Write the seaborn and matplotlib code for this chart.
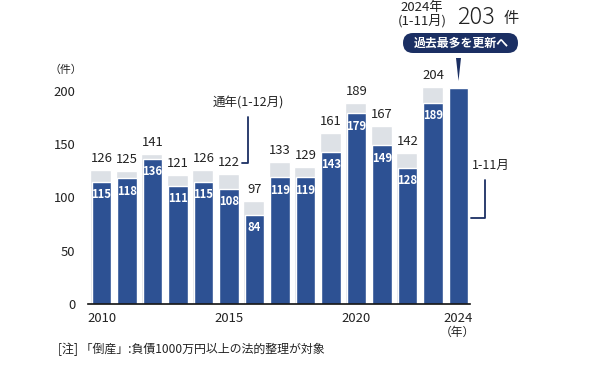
import numpy as np
import pandas as pd
import matplotlib
matplotlib.use("Agg")
import matplotlib.pyplot as plt
import seaborn as sns
from matplotlib.lines import Line2D
from matplotlib.patches import Polygon, FancyBboxPatch
from matplotlib.transforms import IdentityTransform

years = [2010, 2011, 2012, 2013, 2014, 2015, 2016, 2017, 2018, 2019, 2020, 2021, 2022, 2023, 2024]
full_year = [126, 125, 141, 121, 126, 122, 97, 133, 129, 161, 189, 167, 142, 204, np.nan]
jan_nov = [115, 118, 136, 111, 115, 108, 84, 119, 119, 143, 179, 149, 128, 189, 203]
yticks = [0, 50, 100, 150, 200]
xtick_years = [2010, 2015, 2020, 2024]

DARK = "#2d5193"
GRAY = "#dde1e6"
NAVY = "#1b2f63"
TXT = "#222222"

sns.set_theme(style="white")
plt.rcParams["font.family"] = ["Noto Sans CJK JP", "DejaVu Sans"]

W, H = 590, 367
fig = plt.figure(figsize=(W / 100, H / 100), dpi=100)

def fx(x):
    return x / W

def fy(y):
    return 1 - y / H

ymax = 230
ax_left, ax_right, ax_bottom = 88, 470, 304
ax_top = ax_bottom - ymax * (213 / 200)
ax = fig.add_axes([fx(ax_left), fy(ax_bottom), fx(ax_right) - fx(ax_left), fy(ax_top) - fy(ax_bottom)])

df = pd.DataFrame({"year": [str(y) for y in years], "full": full_year, "part": jan_nov})
order = df["year"].tolist()

sns.barplot(data=df, x="year", y="full", order=order, color=GRAY, width=0.82,
            saturation=1, ax=ax, errorbar=None)
for p in ax.patches:
    p.set_x(p.get_x() - 0.025)
sns.barplot(data=df, x="year", y="part", order=order, color=DARK, width=0.76,
            saturation=1, ax=ax, errorbar=None)

ax.set_xlim(-0.53, 14.45)
ax.set_ylim(0, ymax)
ax.set_yticks(yticks)
ax.set_yticklabels([str(v) for v in yticks], fontsize=9.4, color=TXT)
ax.set_xticks([years.index(y) for y in xtick_years])
ax.set_xticklabels([str(y) for y in xtick_years], fontsize=9.4, color=TXT)
ax.tick_params(axis="both", length=0)
ax.tick_params(axis="y", pad=9)
ax.tick_params(axis="x", pad=6)
ax.set_xlabel("")
ax.set_ylabel("")
for s in ["left", "right", "top"]:
    ax.spines[s].set_visible(False)
ax.spines["bottom"].set_color("#111111")
ax.spines["bottom"].set_linewidth(1.2)
ax.grid(False)

# labels
for i, (f, p) in enumerate(zip(full_year, jan_nov)):
    if not np.isnan(f):
        ax.annotate(str(int(f)), (i, f), xytext=(0, 3.5), textcoords="offset points",
                    ha="center", va="bottom", fontsize=9.4, color=TXT)
        ax.annotate(str(p), (i, p), xytext=(0, -4.5), textcoords="offset points",
                    ha="center", va="top", fontsize=8.2, color="white", fontweight="bold")

# axis unit labels
fig.text(fx(66), fy(70), "（件）", ha="center", va="center", fontsize=7.8, color=TXT)
fig.text(fx(457), fy(332), "（年）", ha="center", va="center", fontsize=8.5, color=TXT)

# annotation: full year
fig.text(fx(248), fy(103), "通年(1-12月)", ha="center", va="center", fontsize=9, color=TXT)
fig.add_artist(Line2D([fx(248), fx(248), fx(242)], [fy(117), fy(163), fy(163)],
                      transform=fig.transFigure, color=NAVY, lw=1.3))

# annotation: Jan-Nov
fig.text(fx(491), fy(165), "1-11月", ha="center", va="center", fontsize=9, color=TXT)
fig.add_artist(Line2D([fx(485), fx(485), fx(471)], [fy(180), fy(218), fy(218)],
                      transform=fig.transFigure, color=NAVY, lw=1.3))

# top callout
fig.text(fx(422), fy(8), "2024年", ha="center", va="center", fontsize=9.5, color=TXT)
fig.text(fx(422), fy(21), "(1-11月)", ha="center", va="center", fontsize=9.5, color=TXT)
fig.text(fx(476), fy(17), "203", ha="center", va="center", fontsize=17, color=TXT,
         fontweight="light")
fig.text(fx(511), fy(18), "件", ha="center", va="center", fontsize=11, color=TXT)

box = FancyBboxPatch((403, H - 53), 115, 20, boxstyle="round,pad=0,rounding_size=10",
                     transform=IdentityTransform(), fc=NAVY, ec="none")
fig.add_artist(box)
fig.text(fx(461), fy(43.5), "過去最多を更新へ", ha="center", va="center", fontsize=8.6,
         color="white", fontweight="bold")
fig.add_artist(Polygon([[fx(456), fy(58)], [fx(461), fy(58)], [fx(458.5), fy(81)]],
                       closed=True, transform=fig.transFigure, fc=NAVY, ec="none"))

# footnote
fig.text(fx(58), fy(349), "[注] 「倒産」:負債1000万円以上の法的整理が対象", ha="left", va="center",
         fontsize=8.6, color=TXT)

fig.savefig("out.png", dpi=100, facecolor="white")
